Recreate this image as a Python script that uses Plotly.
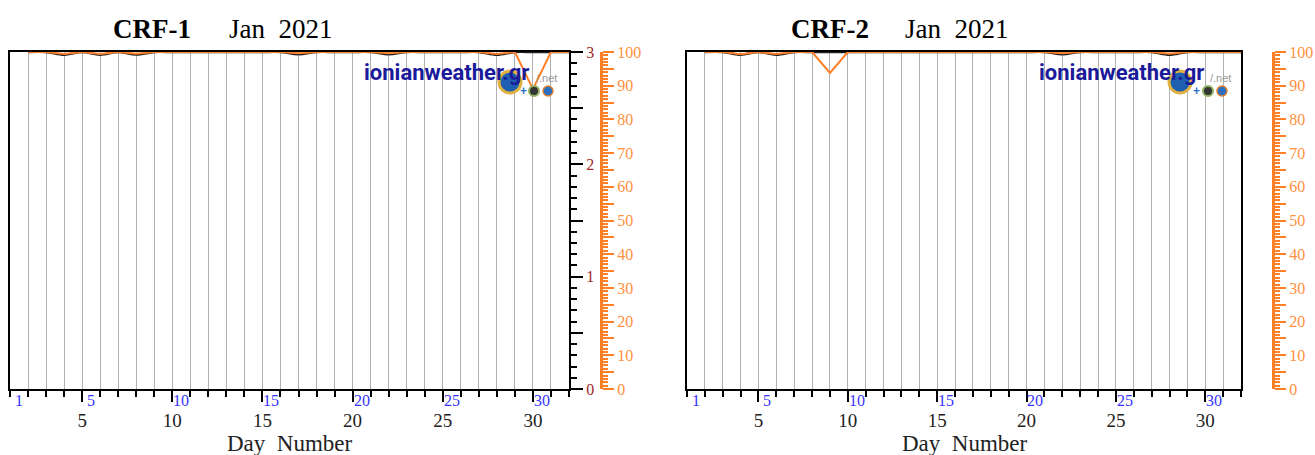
import plotly.graph_objects as go

W, H = 1315, 455

# ---------------- data ----------------
days = list(range(2, 33))  # day positions of the plotted points
crf1_pct = [100, 100, 99.4, 100, 99.4, 100, 99.5, 100, 100, 100, 100, 100, 100, 100, 100,
            99.6, 100, 100, 100, 100, 99.6, 100, 100, 100, 100, 100, 99.4, 100, 89, 100, 100]
crf1_val = [3, 3, 2.975, 3, 2.975, 3, 2.978, 3, 3, 3, 3, 3, 3, 3, 3,
            2.98, 3, 3, 3, 3, 2.98, 3, 3, 3, 3, 3, 2.975, 3, 3, 3, 3]
crf2_pct = [100, 100, 99.3, 100, 99.4, 100, 100, 93.8, 100, 100, 100, 100, 100, 100, 100,
            100, 100, 100, 100, 100, 99.6, 100, 100, 100, 100, 100, 99.5, 100, 100, 100, 100]
crf2_val = [3, 3, 2.975, 3, 2.975, 3, 3, 3, 3, 3, 3, 3, 3, 3, 3,
            3, 3, 3, 3, 3, 2.98, 3, 3, 3, 3, 3, 2.975, 3, 3, 3, 3]
day_ticks = [5, 10, 15, 20, 25, 30]
date_labels = [1, 5, 10, 15, 20, 25, 30]
val_ticks = [0, 0.5, 1, 1.5, 2, 2.5, 3]
val_text = ['0', '', '1', '', '2', '', '3']
pct_ticks = list(range(0, 101, 5))
pct_text = [str(v) if v % 10 == 0 else '' for v in pct_ticks]

SERIF = "Liberation Serif, Times New Roman, serif"
ORANGE = "#FF7F27"
ORANGE_TXT = "#FF9040"
DARKRED = "#A0282C"
BLUE = "#3535FF"


def px(x):
    return x / W


def py(y):
    return 1 - y / H


ydom = [py(389), py(52)]
xdom1 = [px(10), px(569)]
xdom2 = [px(687), px(1241)]

fig = go.Figure()

# black series (left value scale) then orange percent series
fig.add_trace(go.Scatter(x=days, y=crf1_val, xaxis='x', yaxis='y', mode='lines',
                         line=dict(color='#222222', width=2.5, shape='spline'),
                         showlegend=False, hoverinfo='skip'))
fig.add_trace(go.Scatter(x=days, y=crf1_pct, xaxis='x', yaxis='y2', mode='lines',
                         line=dict(color=ORANGE, width=2), showlegend=False))
fig.add_trace(go.Scatter(x=days, y=crf2_val, xaxis='x2', yaxis='y3', mode='lines',
                         line=dict(color='#222222', width=2.5, shape='spline'),
                         showlegend=False, hoverinfo='skip'))
fig.add_trace(go.Scatter(x=days, y=crf2_pct, xaxis='x2', yaxis='y4', mode='lines',
                         line=dict(color=ORANGE, width=2), showlegend=False))


def xaxis_cfg(domain, anchor):
    return dict(domain=domain, anchor=anchor, range=[1, 32], automargin=False,
                tickvals=day_ticks, ticks='outside', ticklen=11, tickwidth=2,
                tickcolor='black', showline=True, linecolor='black', linewidth=2,
                mirror=True, showgrid=True, gridcolor='#b0b0b0', gridwidth=1,
                zeroline=False, ticklabelstandoff=2,
                tickfont=dict(family=SERIF, size=19, color='#222222'),
                minor=dict(dtick=1, tick0=1, ticks='outside', ticklen=6, tickwidth=2,
                           tickcolor='black', showgrid=True, gridcolor='#b0b0b0',
                           gridwidth=1))


def pct_axis(position, overlay):
    return dict(domain=ydom, overlaying=overlay, anchor='free', position=position,
                side='right', range=[0, 100], tickvals=pct_ticks, ticktext=pct_text,
                automargin=False,
                ticks='outside', ticklen=11, tickwidth=2, tickcolor=ORANGE,
                showline=True, linecolor=ORANGE, linewidth=3, showgrid=False,
                zeroline=False, tickfont=dict(family=SERIF, size=16, color=ORANGE_TXT),
                minor=dict(dtick=1, ticks='outside', ticklen=5, tickwidth=1.5,
                           tickcolor=ORANGE, showgrid=False))


fig.update_layout(
    width=W, height=H, margin=dict(l=0, r=0, t=0, b=0, autoexpand=False),
    paper_bgcolor='white', plot_bgcolor='white',
    xaxis=xaxis_cfg(xdom1, 'y'),
    xaxis2=xaxis_cfg(xdom2, 'y3'),
    yaxis=dict(domain=ydom, anchor='x', side='right', range=[0, 3], automargin=False,
               tickvals=val_ticks, ticktext=val_text, ticks='outside', ticklen=12,
               tickwidth=2, tickcolor='black', showline=True, linecolor='black',
               linewidth=2, mirror=True, showgrid=False, zeroline=False,
               tickfont=dict(family=SERIF, size=16, color=DARKRED),
               minor=dict(dtick=0.1, ticks='outside', ticklen=6, tickwidth=2,
                          tickcolor='black', showgrid=False)),
    yaxis2=pct_axis(px(601), 'y'),
    yaxis3=dict(domain=ydom, anchor='x2', side='right', range=[0, 3], automargin=False,
                showticklabels=False, ticks='', showline=True, linecolor='black',
                linewidth=2, mirror=True, showgrid=False, zeroline=False),
    yaxis4=pct_axis(px(1273), 'y3'),
)


def note(text, x, y, size, color, family=SERIF, xref='paper'):
    return dict(text=text, x=x, y=y, xref=xref, yref='paper', showarrow=False,
                xanchor='center', yanchor='middle',
                font=dict(family=family, size=size, color=color))


ann = []
# titles
for name, xc, xd in [("CRF-1", 152, 281), ("CRF-2", 830, 957)]:
    ann.append(note(f"<b>{name}</b>", px(xc), py(29), 27, 'black'))
    ann.append(note("Jan&nbsp;&nbsp;2021", px(xd), py(29), 27, 'black'))
# axis titles
for xc in (290, 965):
    ann.append(note("Day&nbsp;&nbsp;Number", px(xc), py(443), 23, '#222222'))
# blue date labels
for xr in ('x', 'x2'):
    for d in date_labels:
        ann.append(note(str(d), d + 0.5, py(400), 16, BLUE, xref=xr))

shapes = []
# watermark
for tx, gx, c1, c2, pl, nx in [(446, 510, 534, 548, 523, 546), (1121, 1180, 1208, 1222, 1196, 1220)]:
    shapes.append(dict(type='circle', xref='paper', yref='paper', x0=px(gx - 11), x1=px(gx + 11),
                       y0=py(93), y1=py(71), fillcolor='#1f5fb0',
                       line=dict(color='#e0b040', width=3), layer='above'))
    shapes.append(dict(type='circle', xref='paper', yref='paper', x0=px(c1 - 5), x1=px(c1 + 5),
                       y0=py(96), y1=py(86), fillcolor='#333333',
                       line=dict(color='#90b060', width=2), layer='above'))
    shapes.append(dict(type='circle', xref='paper', yref='paper', x0=px(c2 - 5), x1=px(c2 + 5),
                       y0=py(96), y1=py(86), fillcolor='#2a6fc0',
                       line=dict(color='#e08030', width=1.5), layer='above'))
    ann.append(note("<b>ionianweather.gr</b>", px(tx), py(72), 22, '#1a1a9a',
                    family="Liberation Sans Narrow, Arial Narrow, Roboto, sans-serif"))
    ann.append(note("/.net", px(nx), py(78), 11, '#999999', family="Liberation Sans, sans-serif"))
    ann.append(note("<b>+</b>", px(pl), py(91), 12, '#2a6fc0', family="Liberation Sans, sans-serif"))

fig.update_layout(annotations=ann, shapes=shapes)
fig.write_html("out.html", config={'displayModeBar': False},
               post_script="document.body.style.margin='0px';")
